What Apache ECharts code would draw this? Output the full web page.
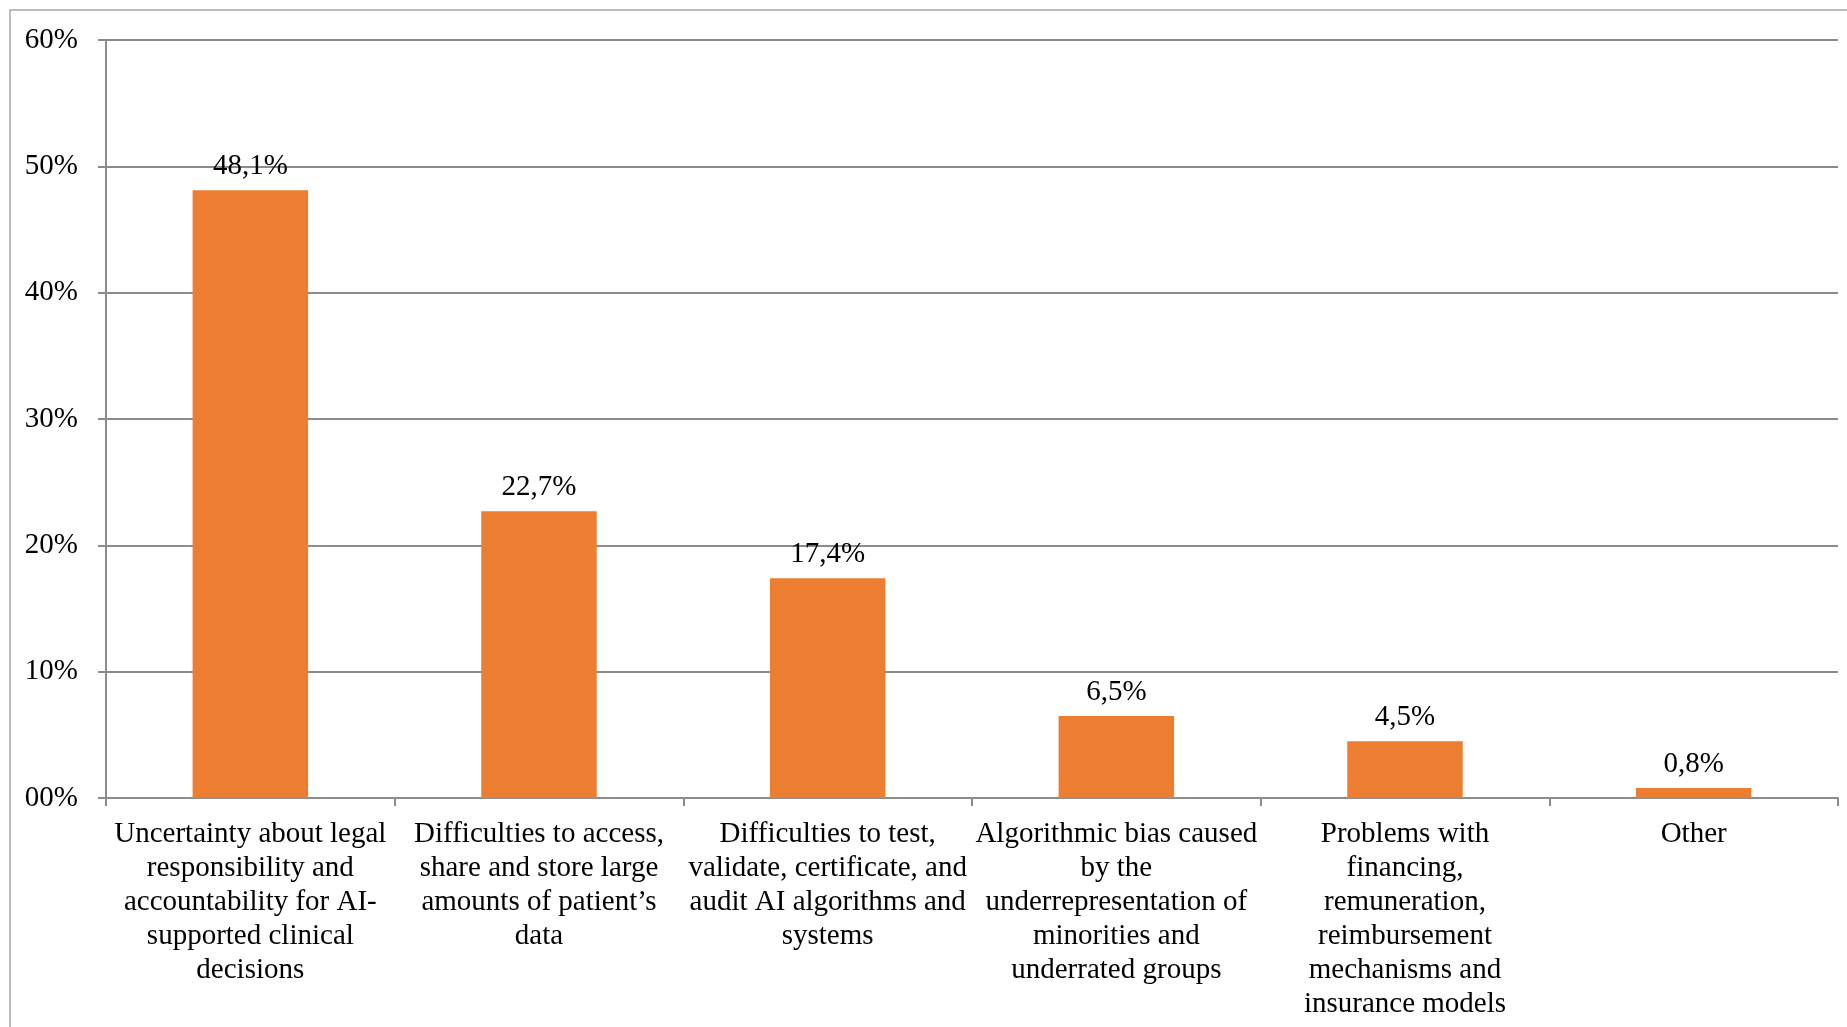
<!DOCTYPE html>
<html>
<head>
<meta charset="utf-8">
<script src="https://cdn.jsdelivr.net/npm/echarts@6/dist/echarts.min.js"></script>
<style>
  html, body { margin: 0; padding: 0; background: #ffffff; }
  #chart { width: 1847px; height: 1027px; }
</style>
</head>
<body>
<div id="chart"></div>
<script>
// Barriers to AI adoption in clinical practice (share of respondents, %)
const categories = [
  'Uncertainty about legal\nresponsibility and\naccountability for AI-\nsupported clinical\ndecisions',
  'Difficulties to access,\nshare and store large\namounts of patient\u2019s\ndata',
  'Difficulties to test,\nvalidate, certificate, and\naudit AI algorithms and\nsystems',
  'Algorithmic bias caused\nby the\nunderrepresentation of\nminorities and\nunderrated groups',
  'Problems with\nfinancing,\nremuneration,\nreimbursement\nmechanisms and\ninsurance models',
  'Other'
];
const shares = [48.1, 22.7, 17.4, 6.5, 4.5, 0.8];
const yTickLabels = ['00%', '10%', '20%', '30%', '40%', '50%', '60%'];

const FONT = '"Liberation Serif", "Times New Roman", serif';
const AXIS_GREY = '#8c8c8c';

const chart = echarts.init(document.getElementById('chart'), null, { renderer: 'canvas' });

chart.setOption({
  animation: false,
  backgroundColor: '#ffffff',
  graphic: [{
    type: 'rect',
    shape: { x: 10, y: 10, width: 1900, height: 1100 },
    style: { fill: 'none', stroke: '#a6a6a6', lineWidth: 1.5 },
    silent: true,
    z: -1
  }],
  grid: { left: 106, right: 9, top: 40, bottom: 229, containLabel: false },
  xAxis: {
    type: 'category',
    data: categories,
    axisLine: { show: true, lineStyle: { color: AXIS_GREY, width: 2 } },
    axisTick: { show: true, alignWithLabel: false, length: 8, lineStyle: { color: AXIS_GREY, width: 2 } },
    axisLabel: {
      interval: 0,
      margin: 19,
      color: '#000000',
      fontFamily: FONT,
      fontSize: 29,
      lineHeight: 34,
      align: 'center'
    }
  },
  yAxis: {
    type: 'value',
    min: 0,
    max: 60,
    interval: 10,
    axisLine: { show: true, lineStyle: { color: AXIS_GREY, width: 2 } },
    axisTick: { show: true, length: 8, lineStyle: { color: AXIS_GREY, width: 2 } },
    splitLine: { show: true, lineStyle: { color: AXIS_GREY, width: 2 } },
    axisLabel: {
      margin: 28,
      color: '#000000',
      fontFamily: FONT,
      fontSize: 29,
      formatter: (v) => yTickLabels[Math.round(v / 10)]
    }
  },
  series: [{
    type: 'bar',
    data: shares,
    barWidth: '40%',
    itemStyle: { color: '#ED7D31' },
    label: {
      show: true,
      position: 'top',
      distance: 9,
      color: '#000000',
      fontFamily: FONT,
      fontSize: 29,
      formatter: (p) => p.value.toFixed(1).replace('.', ',') + '%'
    }
  }]
});
</script>
</body>
</html>
